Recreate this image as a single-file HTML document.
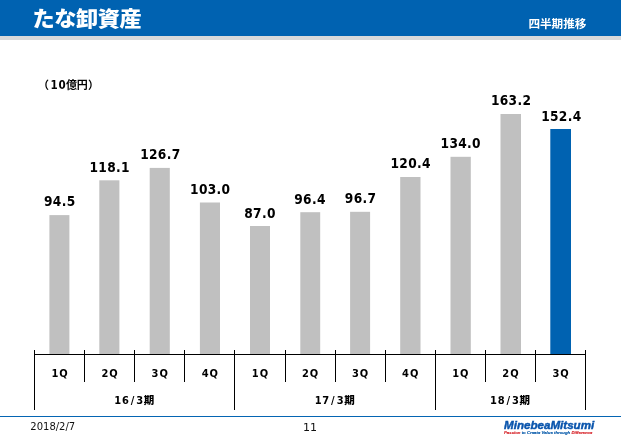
<!DOCTYPE html>
<html lang="ja">
<head>
<meta charset="utf-8">
<title>たな卸資産</title>
<style>
html,body{margin:0;padding:0;background:#fff;}
body{width:621px;height:438px;position:relative;overflow:hidden;font-family:"DejaVu Sans Condensed","DejaVu Sans","Liberation Sans","Noto Sans CJK JP",sans-serif;color:#000;}
.abs{position:absolute;}
#hdr{left:0;top:0;width:621px;height:36px;background:#0062b1;}
#band{left:0;top:36px;width:621px;height:4px;background:#d8d9db;}
#title{left:32.6px;top:3px;height:32px;line-height:32px;font-family:"Liberation Sans","Noto Sans CJK JP",sans-serif;font-weight:900;font-size:22.2px;letter-spacing:-0.45px;color:#fff;white-space:nowrap;transform-origin:0 50%;transform:scaleY(0.94);}
#sub{right:34.6px;top:14px;height:20px;line-height:20px;font-family:"Liberation Sans","Noto Sans CJK JP",sans-serif;font-weight:700;font-size:11.6px;color:#fff;white-space:nowrap;}
#unit{left:0;top:74px;width:120px;height:20px;line-height:20px;font-weight:700;font-size:11px;white-space:nowrap;}
#unit span{position:absolute;top:0;}
#unit .p{font-family:"Noto Sans CJK JP",sans-serif;}
#unit .n{letter-spacing:0.9px;top:1px;font-size:11.5px;}
#unit .k{font-family:"Noto Sans CJK JP",sans-serif;letter-spacing:-0.2px;}
.bar{background:#c0c0c0;}
.bar.b{background:#0062b1;}
.v{width:60px;text-align:center;font-weight:700;font-size:13.6px;height:16px;line-height:16px;white-space:nowrap;letter-spacing:0.35px;}
.q{width:50px;text-align:center;font-weight:700;font-size:11px;height:14px;line-height:14px;white-space:nowrap;letter-spacing:1px;}
.g{width:200px;text-align:center;font-weight:700;font-size:11px;height:14px;line-height:14px;white-space:nowrap;letter-spacing:0.7px;}
.g i{font-style:normal;padding:0 1.2px;}
.g b{font-family:"Noto Sans CJK JP",sans-serif;font-size:10.5px;}
.ln{background:#000;}
#fline{left:0;top:416px;width:621px;height:1px;background:#0565b3;}
.ft{font-family:"DejaVu Sans","Liberation Sans",sans-serif;font-size:11px;height:14px;line-height:14px;white-space:nowrap;letter-spacing:0.17px;color:#111;}
#logo{left:504px;top:418px;height:14px;line-height:14px;font-family:"Liberation Sans",sans-serif;font-weight:700;font-style:italic;font-size:11.6px;color:#0a55ad;-webkit-text-stroke:0.45px #0a55ad;white-space:nowrap;}
#tag{left:504px;top:430px;height:6px;line-height:6px;font-family:"Liberation Sans",sans-serif;font-weight:700;font-style:italic;font-size:4.3px;color:#0a5cab;-webkit-text-stroke:0.15px #0a5cab;white-space:nowrap;}
#tag b{color:#d7262c;font-weight:700;-webkit-text-stroke:0.15px #d7262c;}
</style>
</head>
<body>
<div class="abs" id="hdr"></div>
<div class="abs" id="band"></div>
<div class="abs" id="title">たな卸資産</div>
<div class="abs" id="sub">四半期推移</div>
<div class="abs" id="unit"><span class="p" style="left:38px">（</span><span class="n" style="left:50.5px">10</span><span class="k" style="left:66px">億円</span><span class="p" style="left:88px">）</span></div>
<div class="abs v" style="left:29.75px;top:193px">94.5</div>
<div class="abs q" style="left:35.05px;top:367px">1Q</div>
<div class="abs v" style="left:79.70px;top:159px">118.1</div>
<div class="abs q" style="left:85.15px;top:367px">2Q</div>
<div class="abs v" style="left:130.35px;top:146px">126.7</div>
<div class="abs q" style="left:135.25px;top:367px">3Q</div>
<div class="abs v" style="left:180.25px;top:181px">103.0</div>
<div class="abs q" style="left:185.35px;top:367px">4Q</div>
<div class="abs v" style="left:230.00px;top:205px">87.0</div>
<div class="abs q" style="left:235.45px;top:367px">1Q</div>
<div class="abs v" style="left:280.00px;top:191px">96.4</div>
<div class="abs q" style="left:285.55px;top:367px">2Q</div>
<div class="abs v" style="left:330.60px;top:190px">96.7</div>
<div class="abs q" style="left:335.65px;top:367px">3Q</div>
<div class="abs v" style="left:380.65px;top:155px">120.4</div>
<div class="abs q" style="left:385.75px;top:367px">4Q</div>
<div class="abs v" style="left:430.75px;top:135px">134.0</div>
<div class="abs q" style="left:435.85px;top:367px">1Q</div>
<div class="abs v" style="left:481.10px;top:92px">163.2</div>
<div class="abs q" style="left:485.95px;top:367px">2Q</div>
<div class="abs v" style="left:531.35px;top:108px">152.4</div>
<div class="abs q" style="left:536.05px;top:367px">3Q</div>
<svg class="abs" style="left:0;top:0" width="621" height="438" viewBox="0 0 621 438"><rect x="49.4" y="215.1" width="20.0" height="138.9" fill="#c0c0c0"/><rect x="99.3" y="180.3" width="20.1" height="173.7" fill="#c0c0c0"/><rect x="149.7" y="167.9" width="20.1" height="186.1" fill="#c0c0c0"/><rect x="199.9" y="202.5" width="20.1" height="151.5" fill="#c0c0c0"/><rect x="250" y="226" width="20.0" height="128.0" fill="#c0c0c0"/><rect x="300.3" y="212.2" width="19.9" height="141.8" fill="#c0c0c0"/><rect x="350.1" y="211.8" width="20.0" height="142.2" fill="#c0c0c0"/><rect x="400.2" y="177" width="20.3" height="177.0" fill="#c0c0c0"/><rect x="450.5" y="156.8" width="20.3" height="197.2" fill="#c0c0c0"/><rect x="500.5" y="114" width="20.5" height="240.0" fill="#c0c0c0"/><rect x="550.3" y="129" width="20.7" height="225.0" fill="#0062b1"/></svg>
<div class="abs ln" style="left:34.00px;top:354px;width:552.10px;height:1px"></div>
<div class="abs ln" style="left:34.00px;top:350px;width:1px;height:60px"></div>
<div class="abs ln" style="left:84.10px;top:350px;width:1px;height:32px"></div>
<div class="abs ln" style="left:134.20px;top:350px;width:1px;height:32px"></div>
<div class="abs ln" style="left:184.30px;top:350px;width:1px;height:32px"></div>
<div class="abs ln" style="left:234.40px;top:350px;width:1px;height:60px"></div>
<div class="abs ln" style="left:284.50px;top:350px;width:1px;height:32px"></div>
<div class="abs ln" style="left:334.60px;top:350px;width:1px;height:32px"></div>
<div class="abs ln" style="left:384.70px;top:350px;width:1px;height:32px"></div>
<div class="abs ln" style="left:434.80px;top:350px;width:1px;height:60px"></div>
<div class="abs ln" style="left:484.90px;top:350px;width:1px;height:32px"></div>
<div class="abs ln" style="left:535.00px;top:350px;width:1px;height:32px"></div>
<div class="abs ln" style="left:585.10px;top:350px;width:1px;height:60px"></div>
<div class="abs g" style="left:34.70px;top:393px">16<i>/</i>3<b>期</b></div>
<div class="abs g" style="left:235.10px;top:393px">17<i>/</i>3<b>期</b></div>
<div class="abs g" style="left:410.45px;top:393px">18<i>/</i>3<b>期</b></div>
<div class="abs" id="fline"></div>
<div class="abs ft" style="left:30.3px;top:420px;font-size:10px;letter-spacing:0">2018/2/7</div>
<div class="abs ft" style="left:280px;width:60px;text-align:center;top:421px;letter-spacing:0">11</div>
<div class="abs" id="logo">MinebeaMitsumi</div>
<div class="abs" id="tag"><b>Passion</b> to Create Value through <b>Difference</b></div>
</body>
</html>
